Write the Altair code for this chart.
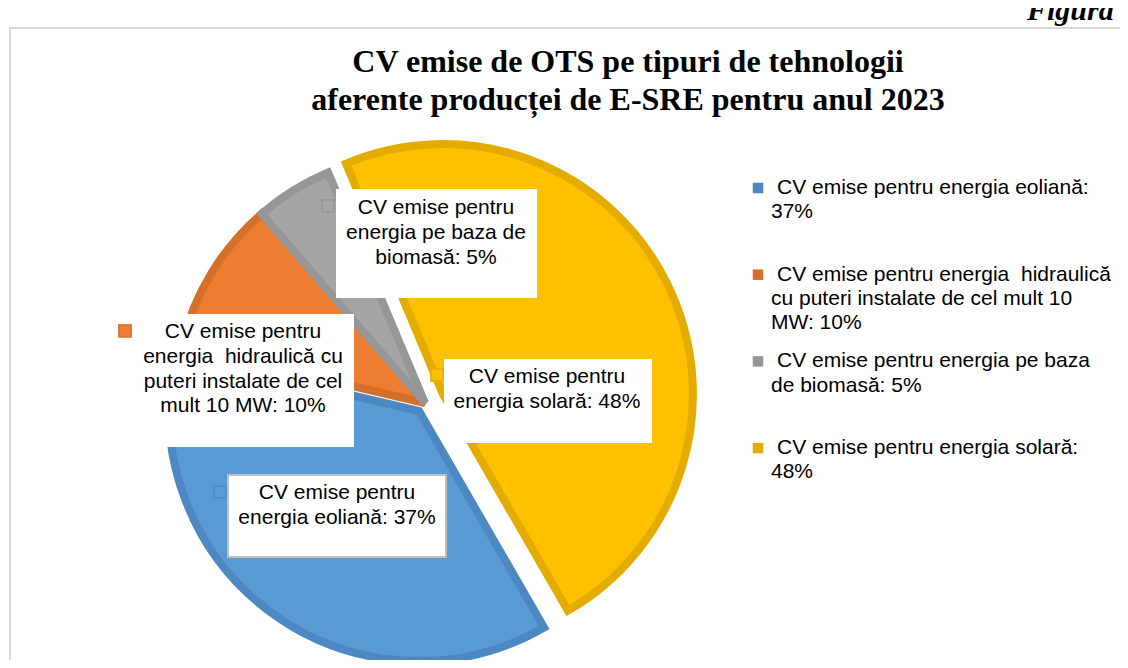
import math
import altair as alt
import pandas as pd

# ---------------- data ----------------
categories = [
    "CV emise pentru energia eoliană",
    "CV emise pentru energia  hidraulică cu puteri instalate de cel mult 10 MW",
    "CV emise pentru energia pe baza de biomasă",
    "CV emise pentru energia solară",
]
values = [37, 10, 5, 48]

label_lines = [
    ["CV emise pentru", "energia eoliană: 37%"],
    ["CV emise pentru", "energia \u00a0hidraulică cu", "puteri instalate de cel", "mult 10 MW: 10%"],
    ["CV emise pentru", "energia pe baza de", "biomasă: 5%"],
    ["CV emise pentru", "energia solară: 48%"],
]
legend_lines = [
    ["CV emise pentru energia eoliană:", "37%"],
    ["CV emise pentru energia \u00a0hidraulică", "cu puteri instalate de cel mult 10", "MW: 10%"],
    ["CV emise pentru energia pe baza", "de biomasă: 5%"],
    ["CV emise pentru energia solară:", "48%"],
]
title_lines = [
    "CV emise de OTS pe tipuri de tehnologii",
    "aferente producței de E-SRE pentru anul 2023",
]
figure_tag = "Figura 5"

# ---------------- style / layout ----------------
OFF = 8  # page margin
W, H = 1112, 652
CX, CY = 425 - OFF, 403 - OFF
R = 250
START = math.radians(150)
EXPLODE = {0: 10, 3: 20}
fills = ["#5B9BD5", "#ED7D31", "#A5A5A5", "#FFC000"]
borders = ["#4E88C2", "#D5702B", "#969696", "#E5AC00"]
SANS = "Liberation Sans"
SERIF = "Liberation Serif"
FS = 21

# label boxes (page coords: x0, y0, x1, y1), text center x, first line y, key pos
label_layout = [
    dict(box=(228, 475, 446, 557), tx=337, ty=493, key=(220, 492), border=True),
    dict(box=(110, 315, 353, 446), tx=243, ty=332, key=(125, 331), border=False),
    dict(box=(337, 190, 536, 297), tx=436, ty=208, key=(328, 206), border=False),
    dict(box=(445, 360, 651, 442), tx=547, ty=377, key=(437, 375), border=False),
]
LABEL_LH = 24.8
legend_layout = dict(sq_x=758, y0=188, step=86.7, first_x=777, wrap_x=771, lh=24.3)

# ---------------- pie ----------------
pie_df = pd.DataFrame({"cat": categories, "value": values, "order": list(range(len(values)))})
explode_expr = " : ".join(f"datum.order == {k} ? {v}" for k, v in EXPLODE.items()) + " : 0"

pie = (
    alt.Chart(pie_df)
    .transform_joinaggregate(total="sum(value)")
    .transform_window(cum="sum(value)", sort=[alt.SortField("order")], frame=[None, 0])
    .transform_calculate(
        mid=f"{START} + 2 * PI * (datum.cum - datum.value / 2) / datum.total",
        ex=explode_expr,
    )
    .transform_calculate(
        cx=f"{CX} + datum.ex * sin(datum.mid)",
        cy=f"{CY} - datum.ex * cos(datum.mid)",
    )
    .mark_arc(radius=R, strokeWidth=8, strokeJoin="miter", strokeMiterLimit=2)
    .encode(
        theta=alt.Theta("value:Q", stack=True,
                        scale=alt.Scale(range=[START, START + 2 * math.pi])),
        order=alt.Order("order:Q"),
        color=alt.Color("cat:N", scale=alt.Scale(domain=categories, range=fills), legend=None),
        stroke=alt.Stroke("cat:N", scale=alt.Scale(domain=categories, range=borders), legend=None),
        x=alt.X("cx:Q", scale=None, axis=None),
        y=alt.Y("cy:Q", scale=None, axis=None),
    )
)

# ---------------- data label boxes ----------------
box_rows, text_rows, key_rows = [], [], []
for i, lay in enumerate(label_layout):
    x0, y0, x1, y1 = lay["box"]
    box_rows.append(dict(x0=x0 - OFF, y0=y0 - OFF, x1=x1 - OFF, y1=y1 - OFF,
                         bc="#BFBFBF" if lay["border"] else "white"))
    for k, line in enumerate(label_lines[i]):
        text_rows.append(dict(t=line, px=lay["tx"] - OFF, py=lay["ty"] - OFF + k * LABEL_LH))
    key_rows.append(dict(px=lay["key"][0] - OFF, py=lay["key"][1] - OFF,
                         fc=fills[i], sc=borders[i]))

boxes = alt.Chart(pd.DataFrame(box_rows)).mark_rect(fill="white", strokeWidth=2).encode(
    x=alt.X("x0:Q", scale=None, axis=None), x2="x1:Q",
    y=alt.Y("y0:Q", scale=None, axis=None), y2="y1:Q",
    stroke=alt.Stroke("bc:N", scale=None),
)
label_text = alt.Chart(pd.DataFrame(text_rows)).mark_text(
    font=SANS, fontSize=FS, align="center", baseline="middle", color="#000000"
).encode(x=alt.X("px:Q", scale=None, axis=None), y=alt.Y("py:Q", scale=None, axis=None), text="t:N")

keys = alt.Chart(pd.DataFrame(key_rows)).mark_square(size=150, strokeWidth=1.5, filled=True, opacity=1).encode(
    x=alt.X("px:Q", scale=None, axis=None), y=alt.Y("py:Q", scale=None, axis=None),
    fill=alt.Fill("fc:N", scale=None),
    stroke=alt.Stroke("sc:N", scale=None),
)

# ---------------- legend ----------------
leg_sq, leg_txt = [], []
for i, lines in enumerate(legend_lines):
    yb = legend_layout["y0"] + i * legend_layout["step"]
    leg_sq.append(dict(px=legend_layout["sq_x"] - OFF, py=yb - OFF, fc=borders[i]))
    for k, line in enumerate(lines):
        xx = legend_layout["first_x"] if k == 0 else legend_layout["wrap_x"]
        leg_txt.append(dict(t=line, px=xx - OFF, py=yb - OFF + k * legend_layout["lh"]))

legend_sq = alt.Chart(pd.DataFrame(leg_sq)).mark_square(size=110, filled=True, opacity=1).encode(
    x=alt.X("px:Q", scale=None, axis=None), y=alt.Y("py:Q", scale=None, axis=None),
    fill=alt.Fill("fc:N", scale=None),
)
legend_txt = alt.Chart(pd.DataFrame(leg_txt)).mark_text(
    font=SANS, fontSize=FS, align="left", baseline="middle", color="#000000"
).encode(x=alt.X("px:Q", scale=None, axis=None), y=alt.Y("py:Q", scale=None, axis=None), text="t:N")

# ---------------- title, frame, tag ----------------
title_df = pd.DataFrame({"t": title_lines, "px": [628 - OFF] * 2, "py": [72 - OFF, 110 - OFF]})
title = alt.Chart(title_df).mark_text(
    font=SERIF, fontSize=32, fontWeight="bold", align="center", baseline="alphabetic", color="#000000"
).encode(x=alt.X("px:Q", scale=None, axis=None), y=alt.Y("py:Q", scale=None, axis=None), text="t:N")

FRAME_TOP = 28
frame = alt.Chart(pd.DataFrame({"a": [0]})).mark_rect(fill=None, stroke="#D9D9D9", strokeWidth=2).encode(
    x=alt.value(2), x2=alt.value(W + 50), y=alt.value(FRAME_TOP - OFF), y2=alt.value(H + 50)
)
tag = alt.Chart(pd.DataFrame({"t": [figure_tag]})).mark_text(
    font=SERIF, fontSize=30, fontWeight="bold", fontStyle="italic", align="left", baseline="alphabetic",
    color="#000000"
).encode(x=alt.value(1027 - OFF), y=alt.value(20 - OFF), text="t:N")

chart = alt.layer(frame, tag, title, pie, boxes, keys, label_text, legend_sq, legend_txt).properties(
    width=W, height=H, padding=0, autosize=alt.AutoSizeParams(type="none")
).configure_view(stroke=None)

chart.save("out.html", embed_options={"renderer": "svg", "actions": False})
